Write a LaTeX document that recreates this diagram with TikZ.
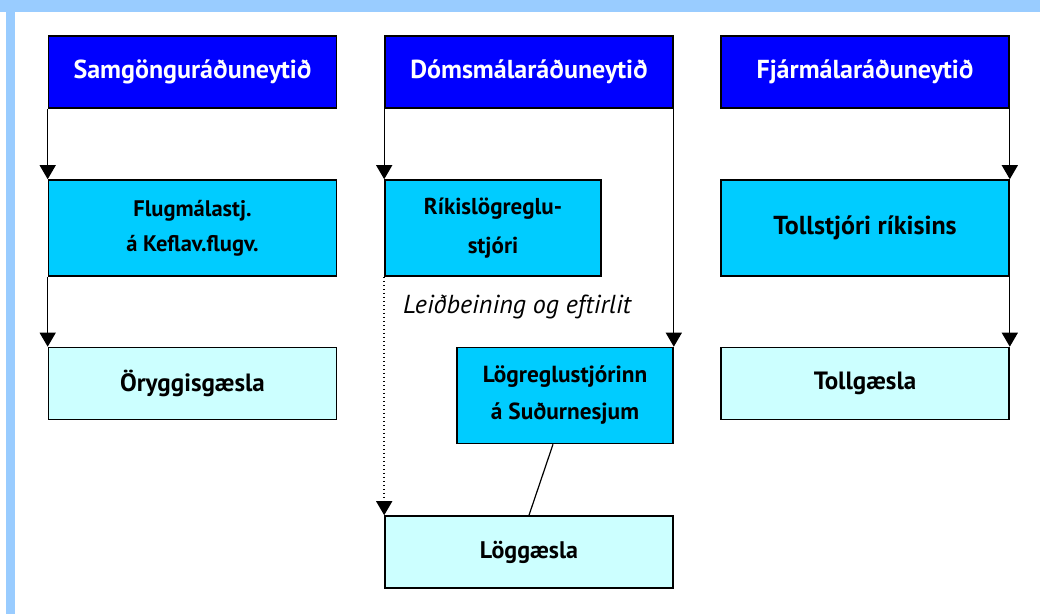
\documentclass[tikz,border=0pt]{standalone}
\usepackage{fontspec}
\setmainfont{PT Sans}
\usetikzlibrary{arrows.meta}
\definecolor{rammi}{RGB}{153,204,255}
\definecolor{raduneyti}{RGB}{0,0,255}
\definecolor{stofnun}{RGB}{0,204,255}
\definecolor{gaesla}{RGB}{204,255,255}
\begin{document}
\begin{tikzpicture}[x=1pt,y=-1pt]
		\tikzset{
			every node/.style={font=\bfseries\fontsize{22.5}{35}\selectfont,align=center},
			% ráðuneyti
			radun/.style={draw,line width=1.6pt,fill=raduneyti,text=white,minimum width=288pt,minimum height=72pt,font=\bfseries\fontsize{26}{30}\selectfont},
			% stofnanir
			stofn/.style={draw,line width=1.6pt,fill=stofnun,minimum width=288pt,minimum height=96pt},
			% gæsla
			gaes/.style={draw,line width=1.6pt,fill=gaesla,minimum width=288pt,minimum height=72pt,font=\bfseries\fontsize{25}{30}\selectfont},
			% örvar
			tengi/.style={line width=1.2pt,-{Triangle[width=16pt,length=14pt]}},
		}
		\useasboundingbox (0,0) rectangle (1040,614);
		% rammi
		\fill[rammi] (0,0) rectangle (1040,12);
		\fill[rammi] (6,0) rectangle (15,614);
		%
		\node[radun] (sam) at (192.5,72) {Samgönguráðuneytið};
		\node[radun] (dom) at (529,72) {Dómsmálaráðuneytið};
		\node[radun] (fja) at (865,72) {Fjármálaráðuneytið};
		%
		\node[stofn] (flug) at (192.5,228) {Flugmálastj.\\á Keflav.flugv.};
		\node[stofn,minimum width=216pt,font=\bfseries\fontsize{23}{39}\selectfont] (rik) at (493,228) {Ríkislögreglu-\\stjóri};
		\node[stofn,font=\bfseries\fontsize{26}{30}\selectfont] (toll) at (865,228) {Tollstjóri ríkisins};
		\node[stofn,minimum width=216pt,font=\bfseries\fontsize{23.3}{37}\selectfont] (logr) at (565,395.5) {Lögreglustjórinn\\á Suðurnesjum};
		%
		\node[gaes] (oryg) at (192.5,383.5) {Öryggisgæsla};
		\node[gaes] (tollg) at (865,383.5) {Tollgæsla};
		\node[gaes,font=\bfseries\fontsize{24}{30}\selectfont] (logg) at (529,552) {Löggæsla};
		%
		\node[font=\itshape\fontsize{26}{30}\selectfont] (leid) at (517,307) {Leiðbeining og eftirlit};
		%
		\draw[tengi] (sam.south west)--(flug.north west);
		\draw[tengi] (flug.south west)--(oryg.north west);
		\draw[tengi] (dom.south west)--(rik.north west);
		\draw[tengi] (dom.south east)--(logr.north east);
		\draw[tengi] (fja.south east)--(toll.north east);
		\draw[tengi] (toll.south east)--(tollg.north east);
		\draw[tengi,line width=1.5pt,dash pattern=on 1.5pt off 2.5pt] (rik.south west)--(logg.north west);
		\draw[line width=1.2pt] ([xshift=-12pt]logr.south)--(logg.north);
\end{tikzpicture}
\end{document}
